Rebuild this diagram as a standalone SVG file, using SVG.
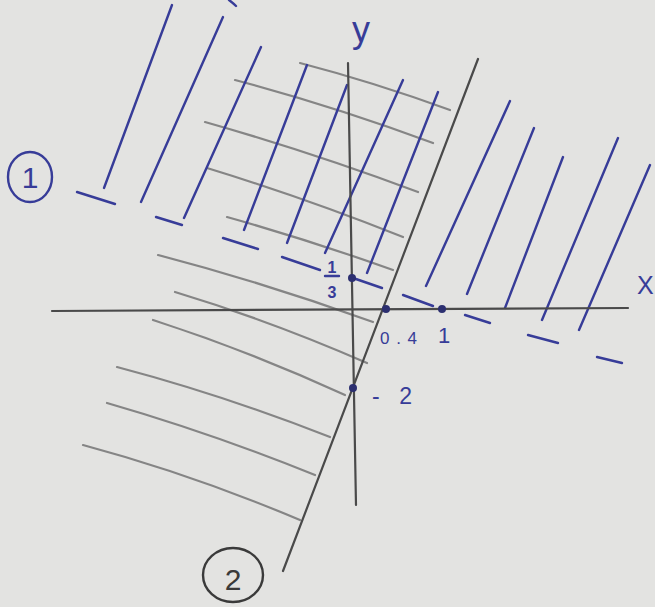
<svg xmlns="http://www.w3.org/2000/svg" width="655" height="607" viewBox="0 0 655 607">
<style>
.blue{stroke:#373c98;stroke-width:2.4;stroke-linecap:round;fill:none}
.pencil{stroke:#858585;stroke-width:2.2;stroke-linecap:round;fill:none}
.ink{stroke:#4a4a4a;stroke-width:2.2;stroke-linecap:round;fill:none}
.lbl{font-family:"Liberation Sans",Arial,sans-serif;fill:#373c98}
.dot{fill:#2c2f70}
</style>
<rect width="655" height="607" fill="#e3e3e1"/>
<g id="hatch-region-2">
<path class="pencil" d="M300 63 Q373 82 450 110"/>
<path class="pencil" d="M235 80 Q333 106 433 143"/>
<path class="pencil" d="M205 122 Q311 152 418 192"/>
<path class="pencil" d="M207 168 Q305 198 403 237"/>
<path class="pencil" d="M227 217 Q309 240 393 270"/>
<path class="pencil" d="M158 255 Q265 283 373 322"/>
<path class="pencil" d="M175 292 Q271 321 367 363"/>
<path class="pencil" d="M153 320 Q249 351 345 395"/>
<path class="pencil" d="M117 367 Q223 395 330 437"/>
<path class="pencil" d="M107 403 Q211 433 315 475"/>
<path class="pencil" d="M83 445 Q191 474 300 520"/>
</g>
<g id="hatch-region-1">
<path class="blue" d="M104 188 L172 5"/>
<path class="blue" d="M141 202 L223 17"/>
<path class="blue" d="M184 218 L261 47"/>
<path class="blue" d="M244 230 L307 65"/>
<path class="blue" d="M287 243 L347 85"/>
<path class="blue" d="M325 253 L403 80"/>
<path class="blue" d="M367 273 L438 92"/>
<path class="blue" d="M426 286 L510 101"/>
<path class="blue" d="M467 294 L534 128"/>
<path class="blue" d="M505 308 L563 157"/>
<path class="blue" d="M542 320 L618 138"/>
<path class="blue" d="M579 330 L650 165"/>
<path class="blue" d="M229 0 Q233 3 236 6"/>
</g>
<g id="axes">
<path class="ink" d="M52 311 L628 308" stroke="#5a5a5a"/>
<path class="ink" d="M348 63 L356 505"/>
</g>
<g id="line-2">
<path class="ink" d="M478 59 L283 571"/>
</g>
<g id="line-1">
<path class="blue" d="M77 192 L115 204"/>
<path class="blue" d="M156 217 L182 225"/>
<path class="blue" d="M223 238 L258 249"/>
<path class="blue" d="M282 257 L320 270"/>
<path class="blue" d="M353 278 L382 288"/>
<path class="blue" d="M403 295 L433 306"/>
<path class="blue" d="M465 315 L490 323"/>
<path class="blue" d="M528 335 L558 343"/>
<path class="blue" d="M597 357 L622 363"/>
</g>
<g id="points">
<circle class="dot" cx="352" cy="278" r="4"/>
<circle class="dot" cx="386" cy="309" r="4"/>
<circle class="dot" cx="442" cy="309" r="4"/>
<circle class="dot" cx="353" cy="388" r="4"/>
</g>
<g id="labels">
<text class="lbl" x="352" y="42" font-size="36">y</text>
<text class="lbl" x="637" y="294" font-size="25">X</text>
<text class="lbl" x="332" y="273" font-size="16" font-weight="bold" text-anchor="middle">1</text>
<path class="blue" d="M325 276 L339 276" stroke-width="2"/>
<text class="lbl" x="332" y="298" font-size="16" font-weight="bold" text-anchor="middle">3</text>
<text class="lbl" x="380" y="344" font-size="17" textLength="37" lengthAdjust="spacing">0.4</text>
<text class="lbl" x="444" y="343" font-size="22" text-anchor="middle">1</text>
<text class="lbl" x="372" y="404" font-size="23" textLength="40" lengthAdjust="spacing">-2</text>
</g>
<g id="label-1">
<ellipse cx="30" cy="177" rx="22" ry="25" fill="none" stroke="#373c98" stroke-width="2.4"/>
<text class="lbl" x="30" y="188" font-size="30" text-anchor="middle">1</text>
</g>
<g id="label-2">
<ellipse cx="233" cy="575" rx="30" ry="27" fill="none" stroke="#3a3a3a" stroke-width="2.4"/>
<text x="233" y="590" font-size="30" text-anchor="middle" font-family="Liberation Sans, Arial, sans-serif" fill="#3a3a3a">2</text>
</g>
</svg>
